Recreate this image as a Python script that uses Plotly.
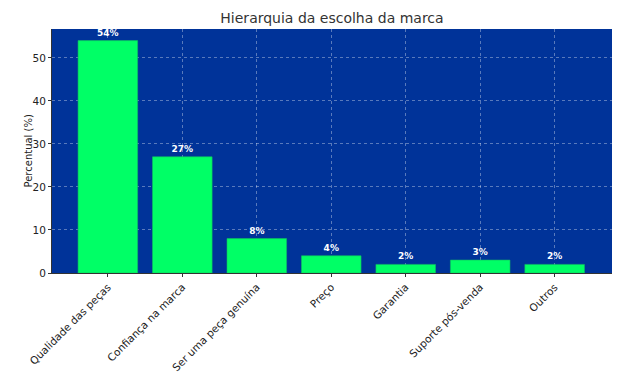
import plotly.graph_objects as go

categories = ["Qualidade das peças", "Confiança na marca", "Ser uma peça genuína",
              "Preço", "Garantia", "Suporte pós-venda", "Outros"]
values = [54, 27, 8, 4, 2, 3, 2]
labels = [f"{v}%" for v in values]

fig = go.Figure()
fig.add_trace(go.Bar(
    x=list(range(len(categories))), y=values, width=0.8,
    marker=dict(color="#00ff66", line=dict(width=0.6, color="#10c060")),
    text=labels, textposition="outside", cliponaxis=False,
    textfont=dict(color="white", size=9, family="DejaVu Sans"),
    texttemplate="<b>%{text}</b>",
))
fig.update_layout(
    width=632, height=386,
    margin=dict(l=52, r=20, t=29, b=113, autoexpand=False),
    paper_bgcolor="white", plot_bgcolor="#003399",
    font=dict(family="DejaVu Sans", size=10.5, color="#222222"),
    title=dict(text="Hierarquia da escolha da marca", xref="paper", x=0.5, xanchor="center",
               yref="container", y=0.952, yanchor="middle", font=dict(size=14, color="#333333")),
    showlegend=False, bargap=0.2,
    annotations=[dict(text="Percentual (%)", xref="paper", yref="paper",
                      x=-0.042, y=0.5, xanchor="center", yanchor="middle",
                      textangle=-90, showarrow=False, font=dict(size=10, color="#222222"))],
)
fig.update_xaxes(
    tickmode="array", tickvals=list(range(len(categories))), ticktext=categories,
    tickangle=-45, range=[-0.75, 6.77], automargin=False,
    showgrid=True, gridcolor="rgba(255,255,255,0.35)", griddash="dot", gridwidth=0.8,
    showline=True, linecolor="#333333", linewidth=1,
    ticks="outside", ticklen=3, tickcolor="#333333", zeroline=False,
)
fig.update_yaxes(
    range=[0, 56.7], tickvals=[0, 10, 20, 30, 40, 50], automargin=False,
    showgrid=True, gridcolor="rgba(255,255,255,0.35)", griddash="dot", gridwidth=0.8,
    showline=True, linecolor="#333333", linewidth=1,
    ticks="outside", ticklen=3, tickcolor="#333333", zeroline=False,
)
fig.write_html("out.html", config={"displayModeBar": False},
               post_script="document.body.style.margin='0';")
